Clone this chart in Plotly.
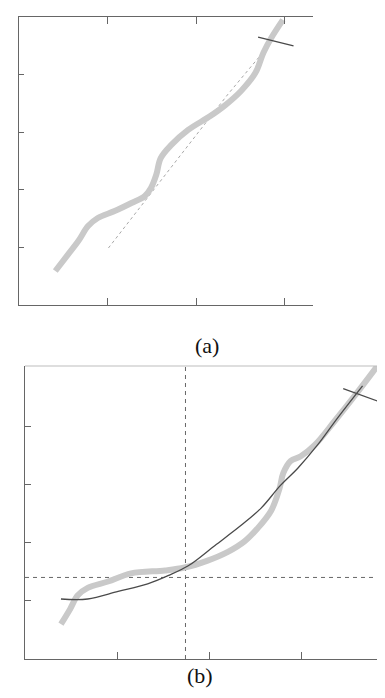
import plotly.graph_objects as go

W, H = 385, 698

# ---------------- Panel (a) data ----------------
a_thick_x = [0.41, 0.55, 0.67, 0.78, 0.89, 1.08, 1.27, 1.42, 1.49, 1.55, 1.60, 1.72, 1.91, 2.16, 2.33, 2.51, 2.67, 2.76, 2.85, 2.98]
a_thick_y = [0.59, 0.87, 1.11, 1.37, 1.51, 1.63, 1.77, 1.89, 2.03, 2.26, 2.55, 2.78, 3.04, 3.28, 3.47, 3.72, 4.03, 4.38, 4.64, 4.95]
a_fit_x = [1.01, 1.42, 2.02, 2.36, 2.73]
a_fit_y = [0.99, 1.80, 2.99, 3.66, 4.34]
a_mark_x = [2.70, 3.10]
a_mark_y = [4.65, 4.50]
a_xticks = [1, 2, 3]
a_yticks = [1, 2, 3, 4]

# ---------------- Panel (b) data ----------------
b_thin_x = [0.39, 0.68, 1.01, 1.33, 1.55, 1.77, 2.06, 2.34, 2.56, 2.77, 2.96, 3.17, 3.39, 3.66]
b_thin_y = [1.03, 1.03, 1.16, 1.29, 1.43, 1.60, 1.95, 2.29, 2.59, 2.98, 3.28, 3.67, 4.14, 4.69]
b_thick_x = [0.39, 0.49, 0.57, 0.68, 0.90, 1.15, 1.52, 1.73, 1.98, 2.20, 2.38, 2.52, 2.67, 2.76, 2.80, 2.88, 2.99, 3.14, 3.36, 3.58, 3.82]
b_thick_y = [0.60, 0.86, 1.09, 1.22, 1.33, 1.47, 1.52, 1.57, 1.69, 1.84, 2.02, 2.24, 2.55, 2.93, 3.19, 3.40, 3.48, 3.67, 4.09, 4.53, 5.03]
b_mark_x = [3.45, 3.82]
b_mark_y = [4.64, 4.43]
b_vline_x = 1.74
b_hline_y = 1.40
b_xticks = [1, 2, 3]
b_yticks = [1, 2, 3, 4]

captions = ["(a)", "(b)"]

THICK = "#c9c9c9"
DARK = "#4a4a4a"
AXC = "#666666"

fig = go.Figure()

# panel (a)
fig.add_trace(go.Scatter(x=a_fit_x, y=a_fit_y, mode="lines", xaxis="x", yaxis="y",
                         line=dict(color="#a8a8a8", width=1, dash="dot"), showlegend=False))
fig.add_trace(go.Scatter(x=a_thick_x, y=a_thick_y, mode="lines", xaxis="x", yaxis="y",
                         line=dict(color=THICK, width=6, shape="spline"), showlegend=False))
fig.add_trace(go.Scatter(x=a_mark_x, y=a_mark_y, mode="lines", xaxis="x", yaxis="y",
                         line=dict(color=DARK, width=1.3), showlegend=False))

# panel (b)
fig.add_trace(go.Scatter(x=[b_vline_x, b_vline_x], y=[0, 5.03], mode="lines", xaxis="x2", yaxis="y2",
                         line=dict(color="#666666", width=1, dash="4px,4px"), showlegend=False))
fig.add_trace(go.Scatter(x=[0, 3.99], y=[b_hline_y, b_hline_y], mode="lines", xaxis="x2", yaxis="y2",
                         line=dict(color="#666666", width=1, dash="4px,4px"), showlegend=False))
fig.add_trace(go.Scatter(x=b_thick_x, y=b_thick_y, mode="lines", xaxis="x2", yaxis="y2",
                         line=dict(color=THICK, width=6, shape="spline"), showlegend=False))
fig.add_trace(go.Scatter(x=b_thin_x, y=b_thin_y, mode="lines", xaxis="x2", yaxis="y2",
                         line=dict(color=DARK, width=1.3, shape="spline"), showlegend=False))
fig.add_trace(go.Scatter(x=b_mark_x, y=b_mark_y, mode="lines", xaxis="x2", yaxis="y2",
                         line=dict(color=DARK, width=1.3), showlegend=False))

def px_x(p):
    return p / W

def px_y(p):
    return 1 - p / H

common = dict(showgrid=False, zeroline=False, showticklabels=False, showline=True,
              linecolor=AXC, linewidth=1.3, ticks="inside", tickcolor=AXC, tickwidth=1.3)

fig.update_layout(
    width=W, height=H, margin=dict(l=0, r=0, t=0, b=0),
    paper_bgcolor="white", plot_bgcolor="white",
    xaxis=dict(domain=[px_x(11), px_x(305)], range=[0, 3.32], tickvals=a_xticks,
               ticklen=7, mirror="ticks", anchor="y", **common),
    yaxis=dict(domain=[px_y(297), px_y(9)], range=[0, 5], tickvals=a_yticks,
               ticklen=5, mirror=False, anchor="x", **common),
    xaxis2=dict(domain=[px_x(17), 1], range=[0, 3.99], tickvals=b_xticks,
                ticklen=7, mirror=False, anchor="y2", **common),
    yaxis2=dict(domain=[px_y(651), px_y(358)], range=[0, 5.03], tickvals=b_yticks,
                ticklen=6, mirror="ticks", anchor="x2", **common),
    shapes=[
        dict(type="line", xref="paper", yref="paper", x0=px_x(17), x1=1,
             y0=px_y(358), y1=px_y(358), line=dict(color="#bdbdbd", width=1)),
    ],
    annotations=[
        dict(text=captions[0], x=px_x(199), y=px_y(337), xref="paper", yref="paper",
             showarrow=False, font=dict(family="Liberation Serif", size=22, color="#111")),
        dict(text=captions[1], x=px_x(192), y=px_y(682), xref="paper", yref="paper",
             showarrow=False, font=dict(family="Liberation Serif", size=22, color="#111")),
    ],
)

fig.write_html("out.html")
